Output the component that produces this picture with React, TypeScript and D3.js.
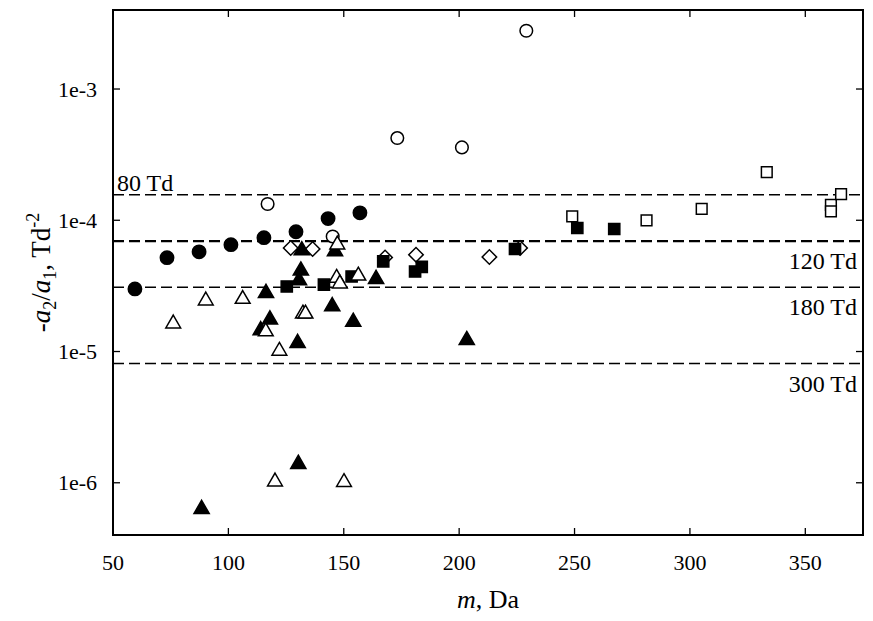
import React from "react";
import * as d3 from "d3";

// m (Da) and -a2/a1 (Td^-2)
const filledCircleM = [59.5, 73.4, 87.3, 101.1, 115.4, 129.3, 143.2, 157.0];
const filledCircleR = [3.0e-5, 5.19e-5, 5.75e-5, 6.52e-5, 7.37e-5, 8.18e-5, 1.03e-4, 1.14e-4];

const openCircleM = [117.0, 145.2, 173.2, 201.2, 229.1];
const openCircleR = [1.33e-4, 7.53e-5, 4.23e-4, 3.59e-4, 2.78e-3];

const filledSquareM = [125.3, 141.4, 153.4, 167.1, 180.9, 183.8, 224.2, 251.2, 267.2];
const filledSquareR = [3.13e-5, 3.23e-5, 3.73e-5, 4.86e-5, 4.07e-5, 4.41e-5, 6.04e-5, 8.73e-5, 8.58e-5];

const openSquareM = [249.0, 281.2, 305.1, 333.3, 361.1, 361.1, 365.5];
const openSquareR = [1.07e-4, 9.98e-5, 1.22e-4, 2.33e-4, 1.31e-4, 1.17e-4, 1.58e-4];

const openDiamondM = [127.0, 136.5, 167.9, 181.3, 213.1, 226.4];
const openDiamondR = [6.15e-5, 6.04e-5, 5.21e-5, 5.46e-5, 5.25e-5, 6.15e-5];

const filledTriangleM = [131.8, 146.2, 131.4, 130.6, 116.3, 118.0, 114.0, 130.0, 145.0, 154.1, 164.0, 203.3, 88.4, 130.3];
const filledTriangleR = [5.89e-5, 5.8e-5, 4.13e-5, 3.48e-5, 2.79e-5, 1.75e-5, 1.45e-5, 1.16e-5, 2.21e-5, 1.68e-5, 3.56e-5, 1.22e-5, 6.3e-7, 1.39e-6];

const openTriangleM = [76.1, 90.2, 106.2, 116.2, 122.1, 132.3, 133.4, 147.2, 146.9, 148.3, 156.3, 120.2, 150.1];
const openTriangleR = [1.63e-5, 2.44e-5, 2.51e-5, 1.42e-5, 1.01e-5, 1.94e-5, 1.94e-5, 6.52e-5, 3.63e-5, 3.29e-5, 3.78e-5, 1.02e-6, 1.01e-6];

// reference field lines
const fieldLabels = ["80 Td", "120 Td", "180 Td", "300 Td"];
const fieldValues = [1.5625e-4, 6.94e-5, 3.09e-5, 8.1e-6];

const xTicks = [50, 100, 150, 200, 250, 300, 350];
const yTicks = [1e-6, 1e-5, 1e-4, 1e-3];
const yTickLabels = ["1e-6", "1e-5", "1e-4", "1e-3"];

const W = 873;
const H = 621;
const margin = { left: 113, right: 10, top: 10, bottom: 86 };
const font = "'Liberation Serif', 'Times New Roman', serif";

const App = () => {
  const x = d3.scaleLinear().domain([50, 375]).range([margin.left, W - margin.right]);
  const y = d3.scaleLog().domain([4e-7, 4e-3]).range([H - margin.bottom, margin.top]);

  const [x0, x1] = x.range();
  const [y0, y1] = y.range();

  const sym = (type, size) => d3.symbol().type(type).size(size)();

  const series = [
    { m: openCircleM, r: openCircleR, d: sym(d3.symbolCircle, 125), fill: "white", rot: 0 },
    { m: filledCircleM, r: filledCircleR, d: sym(d3.symbolCircle, 140), fill: "black", rot: 0 },
    { m: openDiamondM, r: openDiamondR, d: sym(d3.symbolSquare, 105), fill: "white", rot: 45 },
    { m: openSquareM, r: openSquareR, d: sym(d3.symbolSquare, 115), fill: "white", rot: 0 },
    { m: filledSquareM, r: filledSquareR, d: sym(d3.symbolSquare, 125), fill: "black", rot: 0 },
    { m: filledTriangleM, r: filledTriangleR, d: sym(d3.symbolTriangle, 100), fill: "black", rot: 0 },
    { m: openTriangleM, r: openTriangleR, d: sym(d3.symbolTriangle, 95), fill: "white", rot: 0 },
  ];

  const tickLen = 7;

  return (
    <svg width={W} height={H} style={{ position: "absolute", left: 0, top: 0, background: "white" }}>
      <rect width={W} height={H} fill="white" />

      {/* dashed field lines */}
      {fieldValues.map((v, i) => (
        <line
          key={i}
          x1={x0}
          x2={x1}
          y1={y(v)}
          y2={y(v)}
          stroke="black"
          strokeWidth={i === 1 ? 2.4 : 1.5}
          strokeDasharray="11,5"
        />
      ))}
      <text x={x0 + 4} y={y(fieldValues[0]) - 4} fontFamily={font} fontSize={24}>
        {fieldLabels[0]}
      </text>
      {fieldValues.slice(1).map((v, i) => (
        <text key={i} x={x1 - 6} y={y(v) + 28} textAnchor="end" fontFamily={font} fontSize={24}>
          {fieldLabels[i + 1]}
        </text>
      ))}

      {/* markers */}
      {series.map((s, si) => (
        <g key={si}>
          {s.m.map((m, i) => (
            <path
              key={i}
              d={s.d}
              transform={`translate(${x(m)},${y(s.r[i])}) rotate(${s.rot})`}
              fill={s.fill}
              stroke="black"
              strokeWidth={1.5}
            />
          ))}
        </g>
      ))}

      {/* frame */}
      <rect x={x0} y={y1} width={x1 - x0} height={y0 - y1} fill="none" stroke="black" strokeWidth={2} />

      {/* x ticks, bottom and top, inward */}
      {xTicks.map((t) => (
        <g key={t}>
          <line x1={x(t)} x2={x(t)} y1={y0} y2={y0 - tickLen} stroke="black" strokeWidth={1.3} />
          <line x1={x(t)} x2={x(t)} y1={y1} y2={y1 + tickLen} stroke="black" strokeWidth={1.3} />
          <text x={x(t)} y={y0 + 35} textAnchor="middle" fontFamily={font} fontSize={22}>
            {t}
          </text>
        </g>
      ))}

      {/* y ticks, left and right, inward */}
      {yTicks.map((t, i) => (
        <g key={t}>
          <line x1={x0} x2={x0 + tickLen} y1={y(t)} y2={y(t)} stroke="black" strokeWidth={1.3} />
          <line x1={x1} x2={x1 - tickLen} y1={y(t)} y2={y(t)} stroke="black" strokeWidth={1.3} />
          <text x={x0 - 16} y={y(t) + 7.5} textAnchor="end" fontFamily={font} fontSize={22}>
            {yTickLabels[i]}
          </text>
        </g>
      ))}

      {/* axis titles */}
      <text x={(x0 + x1) / 2} y={H - 13} textAnchor="middle" fontFamily={font} fontSize={26}>
        <tspan fontStyle="italic">m</tspan>, Da
      </text>
      <text
        transform={`translate(50,${(y0 + y1) / 2}) rotate(-90)`}
        textAnchor="middle"
        fontFamily={font}
        fontSize={27}
      >
        -<tspan fontStyle="italic">a</tspan>
        <tspan fontSize={18} dy={6}>2</tspan>
        <tspan dy={-6}>/</tspan>
        <tspan fontStyle="italic">a</tspan>
        <tspan fontSize={18} dy={6}>1</tspan>
        <tspan dy={-6}>, Td</tspan>
        <tspan fontSize={18} dy={-11}>-2</tspan>
      </text>
    </svg>
  );
};

export default App;
